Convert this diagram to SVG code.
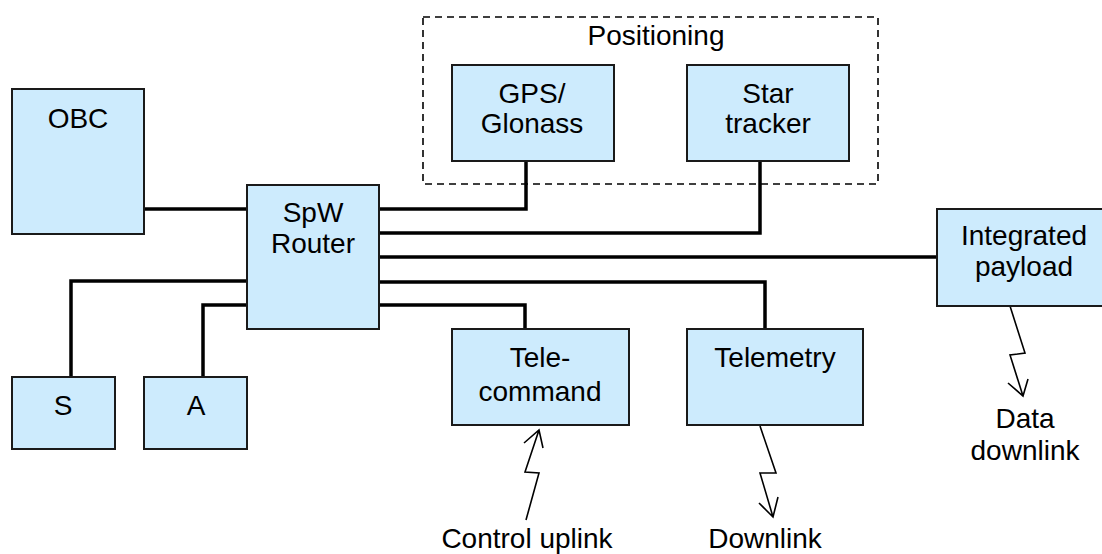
<svg xmlns="http://www.w3.org/2000/svg" width="1102" height="554" viewBox="0 0 1102 554">
<style>
.box{fill:#cdebfd;stroke:#1a1a1a;stroke-width:2}
.t{font-family:"Liberation Sans",Arial,sans-serif;font-size:28px;fill:#000;text-anchor:middle}
.w{fill:none;stroke:#000;stroke-width:3.5}
.z{fill:none;stroke:#000;stroke-width:1.6}
</style>
<rect width="1102" height="554" fill="#fff"/>
<g id="positioning">
<rect x="423" y="17" width="455" height="167" fill="none" stroke="#000" stroke-width="1.6" stroke-dasharray="7,5"/>
<text class="t" x="656" y="45">Positioning</text>
</g>
<g id="connectors">
<path class="w" d="M144 209H247"/>
<path class="w" d="M379 209H526V161"/>
<path class="w" d="M379 233H760V161"/>
<path class="w" d="M379 257H937"/>
<path class="w" d="M379 282H765V329"/>
<path class="w" d="M379 305H525V329"/>
<path class="w" d="M247 281H71V377"/>
<path class="w" d="M247 305H203V377"/>
<path class="z" d="M526 520L539 473L525 472L539 430M524 443L539 430L543 448"/>
<path class="z" d="M760 426L776 473L760 473L773 517M759 503L773 517L778 497"/>
<path class="z" d="M1010 306L1025 353L1010 355L1023 396M1008 383L1023 396L1028 379"/>
</g>
<g id="obc"><rect class="box" x="12" y="89" width="132" height="145"/><text class="t" x="78" y="128">OBC</text></g>
<g id="router"><rect class="box" x="247" y="185" width="132" height="144"/><text class="t" x="313" y="222">SpW</text><text class="t" x="313" y="253">Router</text></g>
<g id="gps"><rect class="box" x="452" y="65" width="162" height="96"/><text class="t" x="532" y="103">GPS/</text><text class="t" x="532" y="133">Glonass</text></g>
<g id="star"><rect class="box" x="687" y="65" width="162" height="96"/><text class="t" x="768" y="103">Star</text><text class="t" x="768" y="133">tracker</text></g>
<g id="payload"><rect class="box" x="937" y="209" width="180" height="97"/><text class="t" x="1024" y="245">Integrated</text><text class="t" x="1024" y="276">payload</text></g>
<g id="s"><rect class="box" x="12" y="377" width="103" height="72"/><text class="t" x="63" y="415">S</text></g>
<g id="a"><rect class="box" x="144" y="377" width="103" height="72"/><text class="t" x="196" y="415">A</text></g>
<g id="telecommand"><rect class="box" x="452" y="329" width="177" height="96"/><text class="t" x="540" y="367">Tele-</text><text class="t" x="540" y="401">command</text></g>
<g id="telemetry"><rect class="box" x="687" y="329" width="176" height="96"/><text class="t" x="775" y="367">Telemetry</text></g>
<g id="labels">
<text class="t" x="527" y="548">Control uplink</text>
<text class="t" x="765" y="548">Downlink</text>
<text class="t" x="1025" y="428">Data</text>
<text class="t" x="1025" y="460">downlink</text>
</g>
</svg>
